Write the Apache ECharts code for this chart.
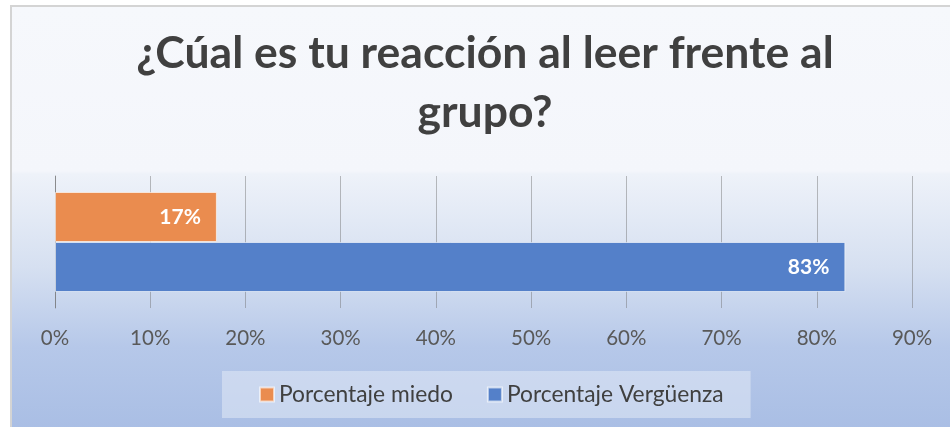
<!DOCTYPE html>
<html>
<head>
<meta charset="utf-8">
<script src="https://cdn.jsdelivr.net/npm/echarts@6/dist/echarts.min.js"></script>
<style>
  html, body { margin: 0; padding: 0; background: #ffffff; width: 950px; height: 427px; overflow: hidden; }
  #frame { position: absolute; left: 10px; top: 5px; width: 960px; height: 440px;
    border-left: 2px solid #d4d4d4; border-top: 2px solid #d4d4d4;
    background: linear-gradient(to bottom, #f6f8fc 0px, #f4f6fb 164px, #eef2f9 167px, #d6e0f1 260px, #b6c8e9 340px, #a8bde4 430px); }
  #chart { position: absolute; left: 0; top: 0; width: 950px; height: 427px; }
</style>
</head>
<body>
<div id="frame"></div>
<div id="chart"></div>
<script>
const titleText = '¿Cúal es tu reacción al leer frente al\ngrupo?';
const categories = [''];
const seriesNames = ['Porcentaje miedo', 'Porcentaje Vergüenza'];
const miedoValues = [17];
const verguenzaValues = [83];
const tickMax = 90;
const tickStep = 10;

const chart = echarts.init(document.getElementById('chart'), null, { renderer: 'canvas' });
const labelStyle = {
  show: true, position: 'insideRight', distance: 16,
  color: '#ffffff', fontFamily: 'Lato', fontWeight: 'bold', fontSize: 21,
  formatter: '{c}%'
};
chart.setOption({
  backgroundColor: 'transparent',
  animation: false,
  title: {
    text: titleText,
    left: 485,
    top: 24,
    padding: 0,
    textAlign: 'center',
    textStyle: { fontFamily: 'Lato', fontWeight: 'bold', fontSize: 44.5, color: '#404040', lineHeight: 59 }
  },
  legend: {
    data: seriesNames,
    bottom: 9,
    left: 222,
    padding: [12, 27, 12, 37],
    backgroundColor: 'rgba(225,233,246,0.55)',
    itemWidth: 14, itemHeight: 14, itemGap: 34,
    icon: 'rect',
    textStyle: { fontFamily: 'Lato', fontSize: 22.8, color: '#404040', padding: [0, 0, 0, 0] }
  },
  grid: { left: 55, right: 38, top: 176, bottom: 119, containLabel: false },
  xAxis: {
    type: 'value', min: 0, max: tickMax, interval: tickStep,
    axisLine: { show: false }, axisTick: { show: false },
    splitLine: { show: true, lineStyle: { color: 'rgba(110,110,110,0.45)', width: 1 } },
    axisLabel: { formatter: '{value}%', fontFamily: 'Lato', fontSize: 20.5, color: '#595959', margin: 20 }
  },
  yAxis: {
    type: 'category', data: categories, inverse: true,
    axisLine: { show: true, lineStyle: { color: 'rgba(110,110,110,0.6)' } },
    axisTick: { show: false }, axisLabel: { show: false }
  },
  series: [
    { name: seriesNames[0], type: 'bar', data: miedoValues, barWidth: 50, barGap: '0%',
      itemStyle: { color: '#ea8c4f', borderColor: 'rgba(255,255,255,0.6)', borderWidth: 1 }, label: labelStyle },
    { name: seriesNames[1], type: 'bar', data: verguenzaValues, barWidth: 50, barGap: '0%',
      itemStyle: { color: '#5480c9', borderColor: 'rgba(255,255,255,0.6)', borderWidth: 1 }, label: labelStyle }
  ]
});
</script>
</body>
</html>
